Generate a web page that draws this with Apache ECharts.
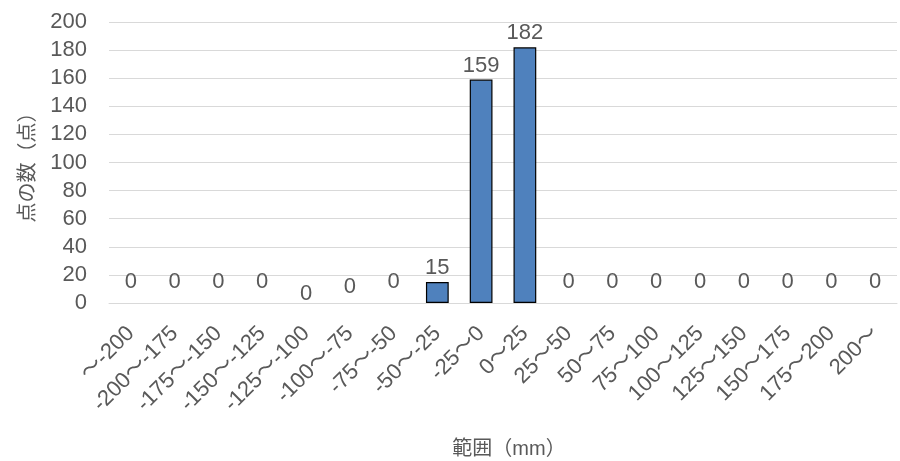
<!DOCTYPE html>
<html>
<head>
<meta charset="utf-8">
<script src="https://cdn.jsdelivr.net/npm/echarts@6/dist/echarts.min.js"></script>
<style>
  html, body { margin: 0; padding: 0; background: #fff; }
  #chart { width: 900px; height: 461px; }
</style>
</head>
<body>
<div id="chart"></div>
<script>
// Distance ranges (mm) and the number of points falling in each range
const categories = [
  '～-200', '-200～-175', '-175～-150', '-150～-125', '-125～-100', '-100～-75',
  '-75～-50', '-50～-25', '-25～0', '0～25', '25～50', '50～75', '75～100',
  '100～125', '125～150', '150～175', '175～200', '200～'
];
const counts = [0, 0, 0, 0, 0, 0, 0, 15, 159, 182, 0, 0, 0, 0, 0, 0, 0, 0];
const yTicks = { min: 0, max: 200, interval: 20 };
const xTitle = '範囲（mm）';
const yTitle = '点の数（点）';

const textColor = '#595959';
const font = '"Liberation Sans", Arial, "Noto Sans CJK JP", sans-serif';

// zero-value labels sit a little higher; two of them drop lower
const zeroLift = { 4: 5, 5: -2 };

const seriesData = counts.map((v, i) => {
  const item = { value: v };
  if (v === 0) {
    const dy = (i in zeroLift) ? zeroLift[i] : -7;
    item.label = { offset: [0, dy] };
    item.itemStyle = { borderWidth: 0 };
  }
  return item;
});

const chart = echarts.init(document.getElementById('chart'), null, { renderer: 'canvas' });
chart.setOption({
  animation: false,
  textStyle: { fontFamily: font },
  grid: {
    left: 109, right: 3, top: 22, bottom: 158,
    containLabel: false,
    outerBoundsMode: 'none'
  },
  xAxis: {
    type: 'category',
    data: categories,
    name: xTitle,
    nameLocation: 'middle',
    nameGap: 136,
    nameTextStyle: { color: textColor, fontSize: 20, fontFamily: font, padding: [0, 0, 0, 12] },
    axisLine: { lineStyle: { color: '#d9d9d9', width: 1 } },
    axisTick: { show: false },
    axisLabel: {
      rotate: 45,
      interval: 0,
      color: textColor,
      fontSize: 22,
      margin: 27,
      fontFamily: font
    }
  },
  yAxis: {
    type: 'value',
    min: yTicks.min,
    max: yTicks.max,
    interval: yTicks.interval,
    name: yTitle,
    nameLocation: 'middle',
    nameGap: 71,
    nameRotate: 90,
    nameTextStyle: { color: textColor, fontSize: 20, fontFamily: font },
    axisLine: { show: false },
    axisTick: { show: false },
    axisLabel: { color: textColor, fontSize: 22, margin: 22, fontFamily: font },
    splitLine: { lineStyle: { color: '#d9d9d9', width: 1 } }
  },
  series: [{
    type: 'bar',
    data: seriesData,
    barWidth: '52%',
    itemStyle: { color: '#4f81bd', borderColor: '#000', borderWidth: 1.2 },
    label: {
      show: true,
      position: 'top',
      distance: 3,
      color: textColor,
      fontSize: 22,
      fontFamily: font
    }
  }]
});
</script>
</body>
</html>
